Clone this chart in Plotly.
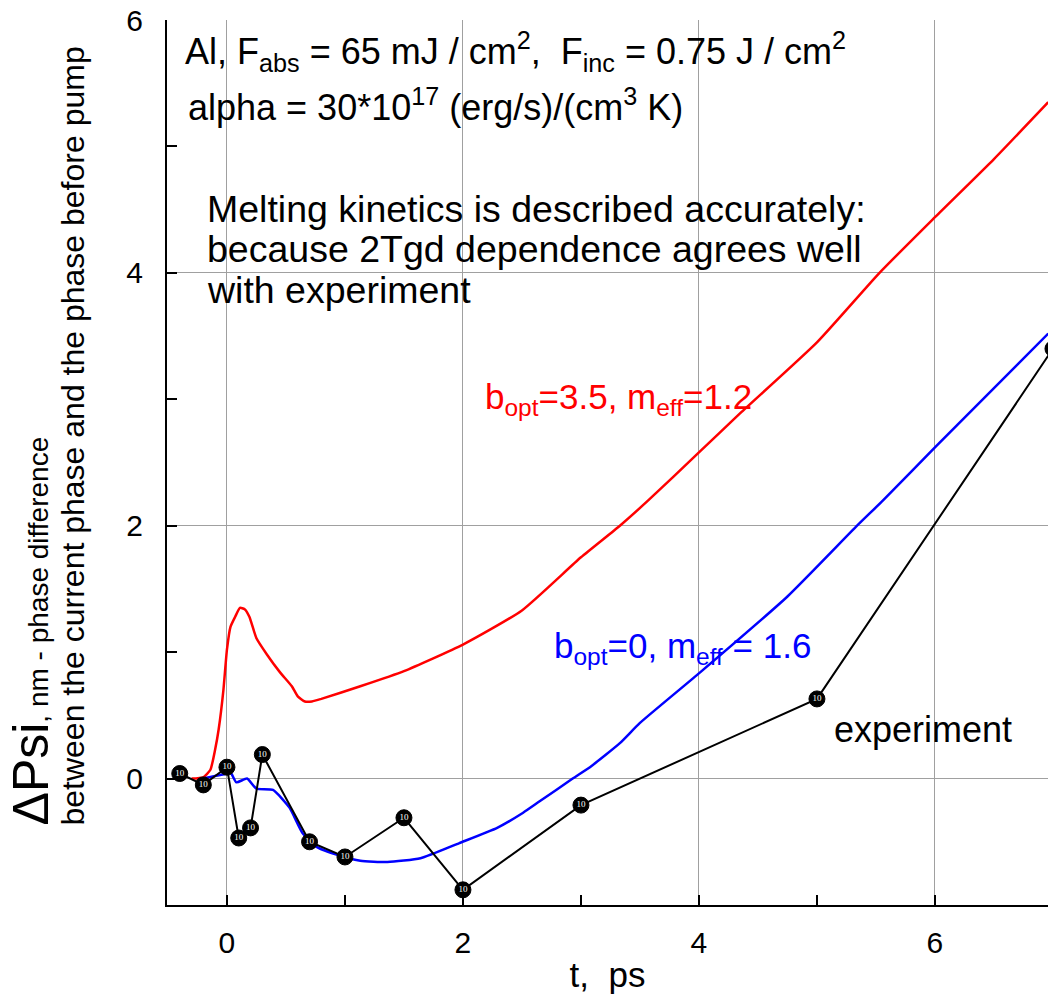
import plotly.graph_objects as go

# ---- data ----
exp_t = [-0.4, -0.2, 0.0, 0.1, 0.2, 0.3, 0.7, 1.0, 1.5, 2.0, 3.0, 5.0, 7.0]
exp_psi = [0.04, -0.05, 0.09, -0.47, -0.39, 0.19, -0.50, -0.62, -0.31, -0.88, -0.21, 0.63, 3.40]
exp_marks = ["10"] * 12 + [""]

red_t = [-0.30, -0.20, -0.14, -0.10, -0.07, -0.03, 0.0, 0.03, 0.07, 0.11, 0.15, 0.19, 0.25,
         0.34, 0.45, 0.55, 0.60, 0.66, 0.72, 0.80, 1.13, 1.5, 2.0, 2.5, 3.0, 3.33, 3.57,
         4.0, 4.35, 5.0, 5.53, 6.0, 6.5, 6.96]
red_psi = [0.0, 0.01, 0.07, 0.23, 0.39, 0.70, 1.02, 1.20, 1.28, 1.35, 1.34, 1.28, 1.11,
           0.98, 0.84, 0.73, 0.65, 0.61, 0.61, 0.63, 0.73, 0.85, 1.06, 1.33, 1.75, 2.0, 2.2,
           2.58, 2.89, 3.45, 4.0, 4.44, 4.90, 5.35]

blue_t = [-0.20, -0.10, 0.0, 0.03, 0.08, 0.17, 0.25, 0.39, 0.53, 0.64, 0.76, 0.96, 1.13,
          1.36, 1.64, 1.97, 2.29, 2.51, 2.65, 2.93, 3.09, 3.33, 3.5, 4.01, 4.75, 5.34,
          5.56, 6.0, 6.96]
blue_psi = [0.0, 0.02, 0.04, 0.05, -0.03, 0.0, -0.08, -0.09, -0.23, -0.43, -0.54, -0.61, -0.65,
            -0.66, -0.63, -0.51, -0.39, -0.27, -0.18, 0.0, 0.10, 0.28, 0.44, 0.84, 1.44, 2.0,
            2.2, 2.62, 3.52]

x_major = [0, 2, 4, 6]
y_major = [0, 2, 4, 6]

FONT = "Liberation Sans, Arial, sans-serif"

fig = go.Figure()
fig.add_trace(go.Scatter(x=red_t, y=red_psi, mode="lines",
                         line=dict(color="#ff0000", width=2.5, shape="spline", smoothing=0.5),
                         showlegend=False))
fig.add_trace(go.Scatter(x=blue_t, y=blue_psi, mode="lines",
                         line=dict(color="#0000ff", width=2.5, shape="spline", smoothing=0.5),
                         showlegend=False))
fig.add_trace(go.Scatter(x=exp_t, y=exp_psi, mode="lines+markers+text",
                         line=dict(color="black", width=2),
                         marker=dict(color="black", size=16, line=dict(color="black", width=1)),
                         text=exp_marks, textposition="middle center",
                         textfont=dict(color="white", size=9, family="Liberation Serif"),
                         cliponaxis=True, showlegend=False))

ann = []
def A(x, y, text, size=36, color="black", xanchor="left", yanchor="middle"):
    ann.append(dict(x=x, y=y, xref="x", yref="y", text=text, showarrow=False,
                    xanchor=xanchor, yanchor=yanchor,
                    font=dict(family=FONT, size=size, color=color)))

A(-0.373, 5.747, "Al, F<sub>abs</sub> = 65 mJ / cm<sup>2</sup>,  F<sub>inc</sub> = 0.75 J / cm<sup>2</sup>", 36)
A(-0.347, 5.328, "alpha = 30*10<sup>17</sup> (erg/s)/(cm<sup>3</sup> K)", 36)
A(-0.186, 4.506, "Melting kinetics is described accurately:", 37.5)
A(-0.186, 4.19, "because 2Tgd dependence agrees well", 37.5)
A(-0.186, 3.866, "with experiment", 37.5)
A(2.169, 3.0, "b<sub>opt</sub>=3.5, m<sub>eff</sub>=1.2", 35, "#ff0000")
A(2.754, 1.03, "b<sub>opt</sub>=0, m<sub>eff</sub> = 1.6", 35, "#0000ff")
A(5.127, 0.387, "experiment", 36)

# y-axis title (two lines, rotated)
ann.append(dict(x=-0.1544, y=0.0881, xref="paper", yref="paper", textangle=-90,
                xanchor="center", yanchor="bottom", showarrow=False,
                text="<span style='font-size:50px'>\u0394Psi</span>, nm - phase difference",
                font=dict(family=FONT, size=28, color="black")))
ann.append(dict(x=-0.1067, y=0.0881, xref="paper", yref="paper", textangle=-90,
                xanchor="center", yanchor="bottom", showarrow=False,
                text="between the current phase and the phase before pump",
                font=dict(family=FONT, size=32, color="black")))

fig.update_layout(
    width=1048, height=1003,
    margin=dict(l=167, r=0, t=20, b=98, autoexpand=False),
    paper_bgcolor="white", plot_bgcolor="white",
    font=dict(family=FONT, color="black"),
    annotations=ann,
    xaxis=dict(range=[-0.508, 6.958], tickvals=x_major, ticks="inside", ticklen=10,
               tickwidth=2, tickcolor="black", showgrid=True, gridcolor="#a0a0a0", gridwidth=1,
               zeroline=False, showline=True, linecolor="black", linewidth=2,
               automargin=False,
               tickfont=dict(size=30, family=FONT), ticklabelstandoff=10,
               minor=dict(dtick=1, tick0=0, ticks="inside", ticklen=10, tickwidth=2,
                          tickcolor="black", showgrid=False),
               title=dict(text="t,  ps", font=dict(size=35, family=FONT), standoff=4)),
    yaxis=dict(range=[-1.0, 6.0], tickvals=y_major, ticks="inside", ticklen=10,
               tickwidth=2, tickcolor="black", showgrid=True, gridcolor="#a0a0a0", gridwidth=1,
               zeroline=False, showline=True, linecolor="black", linewidth=2,
               automargin=False,
               tickfont=dict(size=30, family=FONT), ticklabelstandoff=16,
               minor=dict(dtick=1, tick0=0, ticks="inside", ticklen=10, tickwidth=2,
                          tickcolor="black", showgrid=False)),
)

fig.write_html("out.html", config={"displayModeBar": False},
               post_script="document.body.style.margin='0';document.body.style.overflow='hidden';")
